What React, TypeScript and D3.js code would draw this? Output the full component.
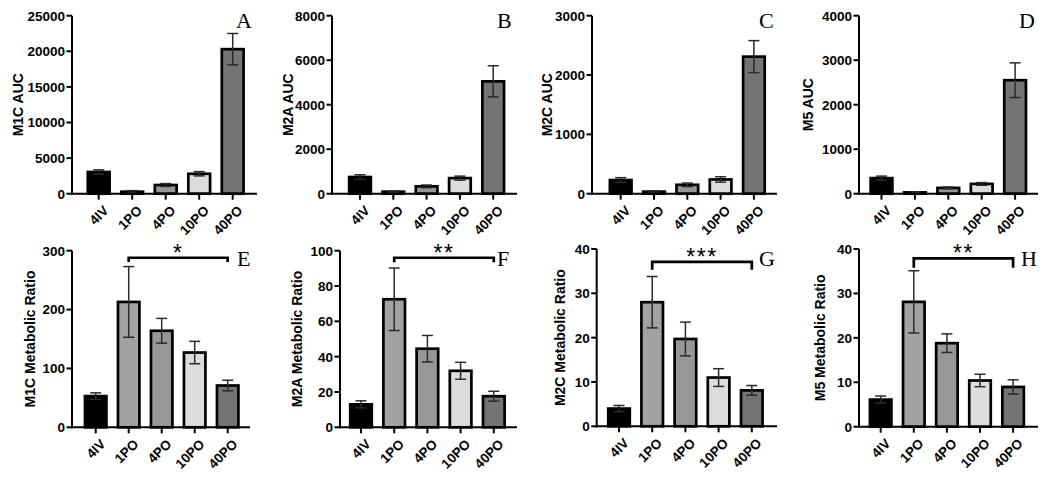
import React from 'react';
import * as d3 from 'd3';

const categories = ['4IV', '1PO', '4PO', '10PO', '40PO'];

const m1cAucMean = [3050, 280, 1220, 2800, 20300];
const m1cAucSem = [300, 150, 200, 300, 2200];
const m2aAucMean = [750, 90, 330, 700, 5050];
const m2aAucSem = [100, 30, 60, 90, 700];
const m2cAucMean = [230, 35, 150, 240, 2310];
const m2cAucSem = [40, 12, 30, 45, 270];
const m5AucMean = [350, 30, 130, 220, 2550];
const m5AucSem = [45, 12, 20, 30, 390];

const m1cRatioMean = [53, 213, 164, 127, 71];
const m1cRatioSem = [5.5, 60, 21, 19, 9];
const m2aRatioMean = [13, 72.5, 44.5, 32, 17.6];
const m2aRatioSem = [2, 17.7, 7.5, 4.8, 2.8];
const m2cRatioMean = [4, 28, 19.7, 11, 8.1];
const m2cRatioSem = [0.7, 5.8, 3.8, 2, 1.1];
const m5RatioMean = [6.1, 28.1, 18.8, 10.4, 8.95];
const m5RatioSem = [0.8, 7, 2.1, 1.4, 1.6];

const ticksA = [0, 5000, 10000, 15000, 20000, 25000];
const ticksB = [0, 2000, 4000, 6000, 8000];
const ticksC = [0, 1000, 2000, 3000];
const ticksD = [0, 1000, 2000, 3000, 4000];
const ticksE = [0, 100, 200, 300];
const ticksF = [0, 20, 40, 60, 80, 100];
const ticksG = [0, 10, 20, 30, 40];
const ticksH = [0, 10, 20, 30, 40];

const yLabels = ['M1C AUC', 'M2A AUC', 'M2C AUC', 'M5 AUC',
  'M1C Metabolic Ratio', 'M2A Metabolic Ratio', 'M2C Metabolic Ratio', 'M5 Metabolic Ratio'];
const panelLetters = ['A', 'B', 'C', 'D', 'E', 'F', 'G', 'H'];
const sigStars = [null, null, null, null, '*', '**', '***', '**'];
// bracket levels in data units: [line value, end tick value]
const sigLevels = [null, null, null, null, [288, 281], [96, 93.4], [37.1, 35.3], [37.9, 35.8]];

const fills = ['#000000', '#a2a2a2', '#979797', '#dcdcdc', '#747474'];

const series = [
  { mean: m1cAucMean, sem: m1cAucSem, ticks: ticksA },
  { mean: m2aAucMean, sem: m2aAucSem, ticks: ticksB },
  { mean: m2cAucMean, sem: m2cAucSem, ticks: ticksC },
  { mean: m5AucMean, sem: m5AucSem, ticks: ticksD },
  { mean: m1cRatioMean, sem: m1cRatioSem, ticks: ticksE },
  { mean: m2aRatioMean, sem: m2aRatioSem, ticks: ticksF },
  { mean: m2cRatioMean, sem: m2cRatioSem, ticks: ticksG },
  { mean: m5RatioMean, sem: m5RatioSem, ticks: ticksH },
];

// layout (pixels)
const layout = [
  { axisX: 72, x0: 98.7, step: 33.5, axisEnd: 257, yTop: 15.7, yBot: 193.7, labelX: 18, letterX: 236, letterY: 28 },
  { axisX: 332, x0: 360, step: 33.3, axisEnd: 517, yTop: 15.7, yBot: 193.7, labelX: 288, letterX: 497, letterY: 28 },
  { axisX: 592, x0: 620.7, step: 33.3, axisEnd: 777, yTop: 15.7, yBot: 193.7, labelX: 547, letterX: 759, letterY: 28 },
  { axisX: 859, x0: 881.5, step: 33.4, axisEnd: 1038, yTop: 15.7, yBot: 193.7, labelX: 808, letterX: 1019, letterY: 28 },
  { axisX: 72, x0: 95.7, step: 33, axisEnd: 250, yTop: 250.7, yBot: 427.3, labelX: 30, letterX: 237, letterY: 266 },
  { axisX: 340, x0: 361, step: 33.2, axisEnd: 517, yTop: 250.7, yBot: 427.3, labelX: 297, letterX: 497, letterY: 266 },
  { axisX: 596.7, x0: 619, step: 33.2, axisEnd: 777, yTop: 249, yBot: 426.3, labelX: 560, letterX: 759, letterY: 266 },
  { axisX: 859, x0: 880.7, step: 33.1, axisEnd: 1038, yTop: 249, yBot: 426.7, labelX: 820, letterX: 1021, letterY: 266 },
];

const sans = '"Liberation Sans", Arial, sans-serif';
const serif = '"Liberation Serif", "Times New Roman", serif';

function Panel({ idx }: { idx: number }) {
  const s = series[idx];
  const L = layout[idx];
  const x = d3.scaleBand<string>()
    .domain(categories)
    .range([L.x0 - L.step / 2, L.x0 + L.step * (categories.length - 0.5)])
    .paddingInner(0.35)
    .paddingOuter(0.175);
  const yMax = s.ticks[s.ticks.length - 1];
  const y = d3.scaleLinear().domain([0, yMax]).range([L.yBot, L.yTop]);
  const bw = x.bandwidth();
  const cap = 11;
  const sig = sigLevels[idx];
  const star = sigStars[idx];
  const c1 = (x('1PO') as number) + bw / 2;
  const c2 = (x('40PO') as number) + bw / 2;
  return (
    <g>
      {categories.map((c, i) => (
        <rect key={'b' + c} x={(x(c) as number)} y={y(s.mean[i])} width={bw} height={y(0) - y(s.mean[i])}
          fill={fills[i]} stroke="#000" strokeWidth={2.7} />
      ))}
      {categories.map((c, i) => {
        const cx = (x(c) as number) + bw / 2;
        const lo = y(Math.max(0, s.mean[i] - s.sem[i]));
        const hi = y(s.mean[i] + s.sem[i]);
        return (
          <g key={'e' + c} stroke="#2b2b2b" strokeWidth={1.5}>
            <line x1={cx} x2={cx} y1={lo} y2={hi} />
            <line x1={cx - cap / 2} x2={cx + cap / 2} y1={hi} y2={hi} />
            <line x1={cx - cap / 2} x2={cx + cap / 2} y1={lo} y2={lo} />
          </g>
        );
      })}
      {/* y axis */}
      <line x1={L.axisX} x2={L.axisX} y1={y(0) + 1} y2={y(yMax)} stroke="#000" strokeWidth={2} />
      {s.ticks.map(t => (
        <g key={'t' + t}>
          <line x1={L.axisX - 5.5} x2={L.axisX} y1={y(t)} y2={y(t)} stroke="#000" strokeWidth={2} />
          <text x={L.axisX - 7} y={y(t)} dy="0.36em" textAnchor="end" fontFamily={sans} fontWeight="bold" fontSize={13.5} fill="#000">{t}</text>
        </g>
      ))}
      {/* x axis */}
      <line x1={L.axisX - 1} x2={L.axisEnd} y1={y(0)} y2={y(0)} stroke="#000" strokeWidth={2} />
      {categories.map(c => {
        const cx = (x(c) as number) + bw / 2;
        return (
          <g key={'x' + c}>
            <line x1={cx} x2={cx} y1={y(0)} y2={y(0) + 6} stroke="#000" strokeWidth={2} />
            <text transform={`translate(${cx + 4},${y(0) + 11}) rotate(-45)`} textAnchor="end" dy="0.7em"
              fontFamily={sans} fontWeight="bold" fontSize={13.5} fill="#000">{c}</text>
          </g>
        );
      })}
      <text transform={`translate(${L.labelX},${(L.yTop + L.yBot) / 2}) rotate(-90)`} textAnchor="middle" dy="0.36em"
        fontFamily={sans} fontWeight="bold" fontSize={14} fill="#000">{yLabels[idx]}</text>
      <text x={L.letterX} y={L.letterY} fontFamily={serif} fontSize={22} fill="#000">{panelLetters[idx]}</text>
      {sig && star && (
        <g>
          <path d={`M${c1},${y(sig[1])}L${c1},${y(sig[0])}L${c2},${y(sig[0])}L${c2},${y(sig[1])}`}
            fill="none" stroke="#000" strokeWidth={2.7} />
          <text x={(c1 + c2) / 2} y={y(sig[0]) + 3} textAnchor="middle" fontFamily={sans} fontSize={23}
            letterSpacing={1.5} fill="#000">{star}</text>
        </g>
      )}
    </g>
  );
}

export default function App() {
  return (
    <svg width={1050} height={478} style={{ position: 'absolute', left: 0, top: 0, background: '#fff' }}>
      <rect width={1050} height={478} fill="#fff" />
      {series.map((_, i) => <Panel key={i} idx={i} />)}
    </svg>
  );
}
